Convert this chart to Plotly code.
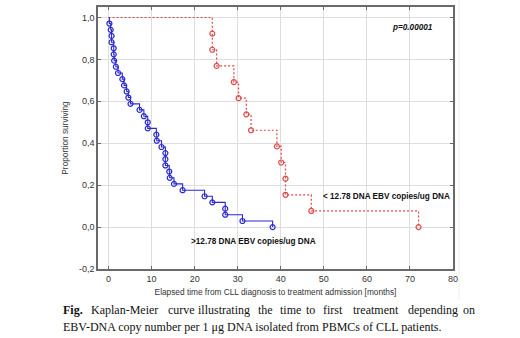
import plotly.graph_objects as go

# ---- data ----
blue_t = [0.2, 0.5, 0.7, 0.7, 1.2, 1.2, 1.3, 1.7, 2.2, 3.2, 3.6, 4.2, 4.6, 5.1,
          7.2, 8.2, 9.1, 9.1, 11.1, 11.2, 12.3, 13.2, 13.2, 13.2, 14.1, 14.2,
          15.2, 17.2, 22.3, 24.1, 27.1, 27.1, 31.1, 38.1]
blue_s = [0.971, 0.941, 0.912, 0.882, 0.853, 0.824, 0.794, 0.765, 0.735, 0.706,
          0.676, 0.647, 0.618, 0.588, 0.559, 0.529, 0.500, 0.471, 0.441, 0.412,
          0.382, 0.353, 0.324, 0.294, 0.265, 0.235, 0.206, 0.176, 0.147, 0.118,
          0.088, 0.059, 0.029, 0.0]
red_t = [24.1, 24.1, 25.1, 29.1, 30.2, 32.0, 33.1, 39.1, 40.1, 41.1, 41.1, 47.1, 72.0]
red_s = [0.923, 0.846, 0.769, 0.692, 0.615, 0.538, 0.462, 0.385, 0.308, 0.231,
         0.154, 0.077, 0.0]
start_t = [0.0]
start_s = [1.0]

x_ticks = [0, 10, 20, 30, 40, 50, 60, 70, 80]
y_ticks = [-0.2, 0.0, 0.2, 0.4, 0.6, 0.8, 1.0]
y_ticklabels = ["-0,2", "0,0", "0,2", "0,4", "0,6", "0,8", "1,0"]

blue_label = ">12.78 DNA EBV copies/ug DNA"
red_label = "< 12.78 DNA EBV copies/ug DNA"
p_label = "p=0.00001"
x_title = "Elapsed time from CLL diagnosis to treatment admission [months]"
y_title = "Proportion surviving"
caption_line1 = ["<b>Fig.</b>", "Kaplan-Meier", "curve", "illustrating", "the", "time",
                 "to", "first", "treatment", "depending", "on"]
caption_line1_px = [63, 91, 168, 198, 258, 280, 306, 323, 353, 408, 463]
caption_line2 = "EBV-DNA copy number per 1 μg DNA isolated from PBMCs of CLL patients."

BLUE = "#2a2ad0"
RED = "#e04848"

W, H = 520, 338
ML, MR, MT, MB = 98, 67, 7, 69
PW, PH = W - ML - MR, H - MT - MB


def px(x):
    return (x - ML) / PW


def py(y):
    return (H - MB - y) / PH


fig = go.Figure()

fig.add_trace(go.Scatter(x=start_t + red_t, y=start_s + red_s, mode="lines",
                         line=dict(color=RED, width=1.2, dash="2px,2px", shape="hv"),
                         hoverinfo="skip", showlegend=False))
fig.add_trace(go.Scatter(x=red_t, y=red_s, mode="markers",
                         marker=dict(symbol="circle-open", size=5, color=RED,
                                     line=dict(width=1.2, color=RED)),
                         showlegend=False))
fig.add_trace(go.Scatter(x=start_t + blue_t, y=start_s + blue_s, mode="lines",
                         line=dict(color=BLUE, width=1.1, shape="hv"),
                         hoverinfo="skip", showlegend=False))
fig.add_trace(go.Scatter(x=blue_t, y=blue_s, mode="markers",
                         marker=dict(symbol="circle-open", size=5, color=BLUE,
                                     line=dict(width=1.2, color=BLUE)),
                         showlegend=False))

chart_font = dict(family="Liberation Sans, Arial, sans-serif", size=9, color="#333333")
cap_font = dict(family="Liberation Serif", size=12, color="#111111")
label_font = dict(family="Liberation Sans, Arial", size=8.2, color="#111111")

annotations = [
    dict(x=px(390), y=py(28), xref="paper", yref="paper", text="<b><i>" + p_label + "</i></b>",
         showarrow=False, xanchor="left", yanchor="middle", font=label_font),
    dict(x=px(321), y=py(196), xref="paper", yref="paper", text="<b>" + red_label + "</b>",
         showarrow=False, xanchor="left", yanchor="middle", font=label_font),
    dict(x=px(189), y=py(241), xref="paper", yref="paper", text="<b>" + blue_label + "</b>",
         showarrow=False, xanchor="left", yanchor="middle", font=label_font),
]
for word, xp in zip(caption_line1, caption_line1_px):
    annotations.append(dict(x=px(xp), y=py(310), xref="paper", yref="paper", text=word,
                            showarrow=False, xanchor="left", yanchor="middle",
                            font=cap_font, borderpad=0, xshift=-1))
annotations.append(dict(x=px(63), y=py(327), xref="paper", yref="paper", text=caption_line2,
                        showarrow=False, xanchor="left", yanchor="middle",
                        font=cap_font, borderpad=0, xshift=-1))

fig.update_layout(
    width=W, height=H,
    margin=dict(l=ML, r=MR, t=MT, b=MB, pad=0),
    plot_bgcolor="white", paper_bgcolor="white",
    font=chart_font,
    annotations=annotations,
    shapes=[dict(type="line", xref="paper", yref="paper", x0=px(459), x1=px(459),
                 y0=py(300), y1=py(0), line=dict(color="#eeeeee", width=1))],
)
fig.update_xaxes(
    range=[-2.45, 80], tickvals=x_ticks, ticktext=[str(v) for v in x_ticks],
    showgrid=True, gridcolor="#dedede", gridwidth=1, zeroline=False,
    showline=True, linecolor="#6a6a6a", linewidth=1.5, mirror="ticks",
    ticks="inside", ticklen=3, tickcolor="#6a6a6a", automargin=False,
    title=dict(text=x_title, standoff=7, font=dict(size=8.3, color="#333333")),
    tickfont=dict(size=9, color="#333333"),
)
fig.update_yaxes(
    range=[-0.2, 1.05], tickvals=y_ticks, ticktext=y_ticklabels,
    showgrid=True, gridcolor="#dedede", gridwidth=1, zeroline=False,
    showline=True, linecolor="#6a6a6a", linewidth=1.5, mirror="ticks",
    ticks="inside", ticklen=3, tickcolor="#6a6a6a", automargin=False,
    title=dict(text=y_title, standoff=9, font=dict(size=8.3, color="#333333")),
    tickfont=dict(size=9, color="#333333"),
)

fig.write_html("out.html", config={"displayModeBar": False},
               post_script="document.body.style.margin='0';document.body.style.overflow='hidden';")
